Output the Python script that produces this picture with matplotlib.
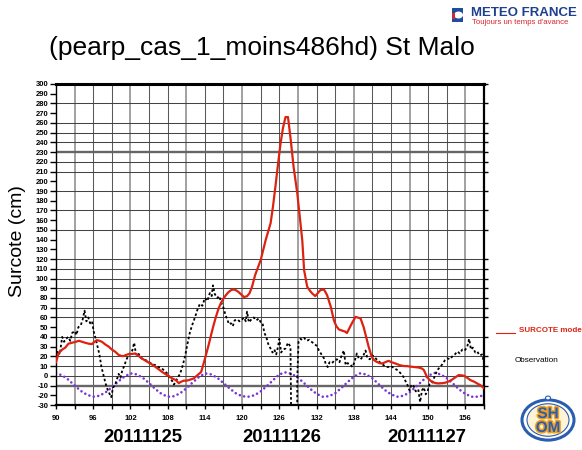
import matplotlib
matplotlib.use("Agg")
import matplotlib.pyplot as plt
import matplotlib.patheffects as pe
from matplotlib.lines import Line2D
from matplotlib.patches import Circle, Rectangle
from matplotlib.transforms import blended_transform_factory

plt.rcParams['font.family'] = ['Liberation Sans', 'DejaVu Sans']

# --- data -------------------------------------------------------------
# modelled surge (cm) against forecast hour
model_h = [90.0, 90.4, 91.0, 91.5, 92.0, 92.6, 93.2, 93.7, 94.2, 94.7, 95.3, 95.8,
           96.2, 96.6, 97.0, 97.4, 98.0, 98.5, 99.0, 99.5, 100.1, 100.5, 100.9,
           101.3, 101.7, 102.3, 102.8, 103.2, 103.6, 104.3, 105.0, 105.5, 106.0,
           106.6, 107.1, 107.6, 108.2, 108.7, 109.3, 109.8, 110.2, 110.6, 111.0,
           111.4, 111.8, 112.2, 112.6, 113.0, 113.4, 113.8, 114.2, 114.6, 115.0,
           115.4, 115.8, 116.2, 116.6, 117.0, 117.4, 117.8, 118.2, 118.6, 119.0,
           119.4, 119.8, 120.3, 120.8, 121.2, 121.6, 122.1, 122.4, 123.0, 123.8,
           124.6, 125.0, 125.4, 125.8, 126.2, 126.6, 127.0, 127.4, 127.8, 128.3,
           128.9, 129.3, 129.7, 130.0, 130.5, 131.0, 131.3, 131.8, 132.2, 132.6,
           133.2, 133.7, 134.0, 134.3, 134.8, 135.2, 135.6, 136.2, 136.6, 136.9,
           137.3, 137.7, 138.3, 139.1, 139.6, 140.0, 140.4, 140.9, 141.3, 141.7,
           142.2, 142.6, 143.1, 143.6, 144.1, 144.7, 145.4, 146.1, 146.6, 147.1,
           147.8, 148.5, 149.0, 149.3, 149.8, 150.2, 150.6, 151.2, 151.7, 152.3,
           152.8, 153.4, 153.9, 154.4, 154.9, 155.4, 155.8, 156.3, 156.8, 157.4,
           157.9, 158.5, 159.0]
model_v = [14, 23, 27, 29, 33, 34, 35, 36, 35, 34, 33, 32.6,
           35, 36.7, 36, 35, 32, 30, 27, 25, 21.5, 20.5, 20.3,
           21.5, 22.3, 22.5, 23, 21, 19, 16, 13.4, 11.5, 9.3,
           6.5, 4, 2, -0.3, -2.5, -4.4, -7.5, -6, -5, -5,
           -4.4, -3.5, -2.7, -0.5, 1.7, 4, 12.7, 22, 31.5, 42,
           52, 61, 69, 75, 79.5, 83, 86, 88, 88.8, 88,
           86.3, 84, 81, 81.8, 85, 91.5, 103.5, 108.6, 119, 139.5,
           157, 175, 196, 218, 239, 255, 266, 266, 245, 215,
           187.5, 163, 139.5, 108.6, 91.5, 87, 84.7, 82, 85, 88,
           88.8, 83, 77, 71, 57, 51, 47.7, 46.3, 45.5, 44,
           49, 54, 60.6, 59, 50, 40, 30, 19.5, 16, 14.4,
           13, 12.7, 14, 15.4, 14, 12.7, 11, 10, 10, 9.5,
           9, 8.5, 7.5, 5.9, -1, -4, -6.2, -7.5, -7.8, -7.5,
           -7, -5.5, -3.7, -1.5, 0.7, 0.5, 0, -2, -4.4, -6,
           -7.8, -10, -12.8]

# observed surge (cm); -99 marks the missing gauge record
obs_h = [90.0, 90.3, 90.6, 91.0, 91.3, 91.6, 92.0, 92.3, 92.6, 93.0, 93.3, 93.6,
         94.0, 94.3, 94.6, 94.9, 95.2, 95.5, 95.8, 96.1, 96.4, 96.7, 97.0, 97.3,
         97.6, 98.0, 98.3, 98.6, 98.9, 99.2, 99.5, 99.8, 100.1, 100.4, 100.7,
         101.0, 101.3, 101.6, 102.0, 102.3, 102.6, 102.9, 103.2, 103.6, 104.0,
         104.5, 105.0, 105.5, 106.0, 106.5, 107.0, 107.5, 108.0, 108.4, 108.7,
         109.0, 109.3, 109.6, 110.0, 110.4, 110.8, 111.2, 111.6, 112.0, 112.4,
         112.8, 113.2, 113.6, 114.0, 114.4, 114.8, 115.1, 115.3, 115.6, 116.0,
         116.3, 116.6, 117.0, 117.3, 117.6, 117.9, 118.2, 118.5, 118.8, 119.2,
         119.6, 120.0, 120.3, 120.6, 120.8, 121.1, 121.5, 121.9, 122.3, 122.7,
         123.0, 123.3, 123.6, 123.9, 124.2, 124.6, 124.9, 125.2, 125.5, 125.8,
         126.0, 126.3, 126.6, 127.0, 127.4, 127.8, 128.0, 128.85, 128.9, 129.1,
         129.4, 129.7, 130.0, 130.4, 130.8, 131.2, 131.6, 132.0, 132.4, 132.8,
         133.2, 133.5, 133.8, 134.1, 134.5, 134.9, 135.3, 135.7, 136.0, 136.4,
         136.7, 137.0, 137.4, 137.8, 138.1, 138.5, 138.8, 139.1, 139.5, 139.9,
         140.2, 140.6, 141.0, 141.4, 141.8, 142.2, 142.6, 143.0, 143.5, 144.0,
         144.5, 145.0, 145.5, 146.0, 146.4, 146.7, 147.0, 147.3, 147.7, 148.0,
         148.4, 148.7, 149.0, 149.3, 149.6, 149.9, 150.2, 150.6, 150.9, 151.2,
         151.5, 151.9, 152.3, 152.7, 153.1, 153.5, 153.9, 154.3, 154.7, 155.1,
         155.5, 155.9, 156.3, 156.6, 156.9, 157.2, 157.6, 157.9, 158.3, 158.7,
         159.0]
obs_v = [18, 26, 22, 40, 35, 38, 40, 36, 44, 46, 42, 50,
         52, 58, 67, 56, 60, 54, 56, 45, 38, 30, 22, 10,
         2, -8, -14, -18, -22, -12, -10, -4, 2, -2, 6,
         10, 16, 20, 24, 26, 34, 22, 24, 19, 17,
         16, 14, 12, 11, 9, 8, 5, 2, -3, -5,
         -9, -6, -2, 2, 10, 20, 33, 45, 53, 60,
         68, 74, 72, 80, 77, 85, 82, 93, 84, 80,
         82, 76, 70, 63, 58, 53, 54, 51, 57, 58,
         56, 58, 60, 56, 66, 55, 58, 60, 57, 59,
         55, 54, 44, 40, 33, 28, 24, 27, 22, 30,
         38, 24, 27, 28, 34, 30, -99, -99, -1, 35,
         38, 37, 39, 36, 37, 35, 33, 31, 26, 22,
         18, 12, 9, 14, 13, 16, 17, 14, 20, 26,
         11, 13, 12, 9, 14, 23, 18, 17, 20, 26,
         18, 17, 21, 19, 16, 14, 12, 10, 9, 10,
         8, 6, 3, -1, -6, -10, -15, -9, -11, -16,
         -14, -27, -15, -12, -19, -16, -9, -8, -3, 2,
         6, 9, 12, 16, 18, 17, 20, 22, 25, 23,
         27, 26, 30, 38, 27, 29, 24, 25, 21, 22,
         13]

# astronomical reference curve (cm), hourly
tide_h = list(range(90, 160))
tide_v = [2.5, 0.5, -4, -10, -15.5, -19.5, -21.5, -20.5, -17, -12, -6, -1,
          2.5, 1.5, -2, -7.5, -13.5, -18.5, -21.5, -21, -18, -13, -7, -1.5,
          2.5, 1.5, -2, -7.5, -13, -18, -21, -21.5, -20, -16, -10.5, -4.5,
          1.5, 3.5, 2, -2, -7.5, -13.5, -18.5, -21.5, -21, -18, -12.5, -6.5,
          -1, 2.5, 1.5, -2.5, -8.5, -14.5, -19, -21.5, -20.5, -17, -11.5, -5.5,
          0, 3, 1.5, -2.5, -8, -14, -18.5, -21.5, -21.5, -20]

grid_levels = [300, 280, 260, 250, 240, 230, 220, 210, 190, 170, 150, 120, 110,
               100, 90, 80, 70, 60, 40, 20, 10, 0, -10]
heavy_levels = [230, -10]
x_labels_h = list(range(90, 157, 6))
day_labels = ["20111125", "20111126", "20111127"]
day_centers = [104.0, 126.4, 149.8]

# --- figure -----------------------------------------------------------
W, H = 582, 450
fig = plt.figure(figsize=(W / 100, H / 100), dpi=100)
ax = fig.add_axes([56 / W, 1 - 405 / H, (484 - 56) / W, (405 - 84) / H])
ax.set_xlim(90, 159)
ax.set_ylim(-30, 300)

# grid
for i, h in enumerate(range(93, 159, 3)):
    ax.axvline(h, color="#5a5a5a" if i % 3 else "#9a9a9a",
               lw=0.75 if i % 3 else 1.3, zorder=1)
for lv in grid_levels:
    if lv in heavy_levels:
        ax.axhline(lv, color="#666666", lw=1.7, zorder=1)
    else:
        ax.axhline(lv, color="#444444", lw=0.75, zorder=1)

# series
ax.plot(tide_h, tide_v, color="#7a35d6", lw=1.9,
        linestyle=(0, (0.01, 1.7)), dash_capstyle="round", zorder=2)
ax.plot(obs_h, obs_v, color="black", lw=1.3,
        linestyle=(0, (1.4, 1.3)), zorder=3)
ax.plot(model_h, model_v, color="#dd2211", lw=1.6, zorder=4)

# axes styling
for side, lw in (("left", 1.0), ("bottom", 1.6), ("right", 1.6), ("top", 2.2)):
    ax.spines[side].set_linewidth(lw)
    ax.spines[side].set_color("black")

ax.set_yticks(range(-30, 301, 10))
ax.set_yticklabels([str(v) for v in range(-30, 301, 10)],
                   fontsize=5.5, fontweight="bold")
ax.set_xticks(x_labels_h)
ax.set_xticklabels([str(h) for h in x_labels_h], fontsize=5.5, fontweight="bold")
ax.set_xticks(range(90, 160, 3), minor=True)
ax.tick_params(axis="y", which="major", direction="out", length=4, width=1, pad=1.5)
ax.tick_params(axis="x", which="both", direction="out", length=3, width=1, pad=4)

# right-hand ticks at the grid levels
rax = ax.twinx()
rax.set_ylim(ax.get_ylim())
rax.set_yticks(grid_levels)
rax.set_yticklabels([])
rax.tick_params(axis="y", direction="out", length=3, width=1)
for s in rax.spines.values():
    s.set_visible(False)

# titles
fig.text(262 / W, 1 - 48 / H, "(pearp_cas_1_moins486hd) St Malo",
         ha="center", va="center", fontsize=19)
fig.text(18 / W, 1 - 241 / H, "Surcote (cm)", rotation=90,
         ha="center", va="center", fontsize=14)

trans = blended_transform_factory(ax.transData, fig.transFigure)
for lab, c in zip(day_labels, day_centers):
    fig.text(c, 1 - 437 / H, lab, transform=trans, ha="center", va="center",
             fontsize=13.3, fontweight="bold")

# legend at the right
fig.add_artist(Line2D([496 / W, 515 / W], [1 - 333 / H, 1 - 333 / H],
                      color="#dd2211", lw=0.8))
fig.text(519 / W, 1 - 331 / H, "SURCOTE modele", color="#dd2211",
         fontsize=5.8, fontweight="bold", va="center", ha="left")
fig.text(515 / W, 1 - 360 / H, "Observation", color="black",
         fontsize=5.9, va="center", ha="left")

# Meteo-France banner
fig.add_artist(Rectangle((452 / W, 1 - 22 / H), 11 / W, 14 / H,
                         transform=fig.transFigure, facecolor="#1d4e9e",
                         edgecolor="none"))
fig.add_artist(Circle((458.5 / W, 1 - 15 / H), 4.5 / W,
                      transform=fig.transFigure, facecolor="white",
                      edgecolor="none"))
fig.add_artist(Rectangle((452 / W, 1 - 19 / H), 3 / W, 6 / H,
                         transform=fig.transFigure, facecolor="#d8262e",
                         edgecolor="none"))
fig.text(471 / W, 1 - 13 / H, "METEO FRANCE", color="#1f3f8f",
         fontsize=9.5, fontweight="bold", va="center", ha="left")
fig.text(472 / W, 1 - 22.5 / H, "Toujours un temps d'avance", color="#d8262e",
         fontsize=5.6, va="center", ha="left")

# SHOM emblem
cx, cy, r = 548, 420, 26
fig.add_artist(Circle((cx / W, 1 - cy / H), r / W, transform=fig.transFigure,
                      facecolor="white", edgecolor="#2a5db0", lw=2.2))
fig.add_artist(Circle((cx / W, 1 - cy / H), (r - 5) / W, transform=fig.transFigure,
                      facecolor="#fff4d8", edgecolor="#2a5db0", lw=0.8))
fig.add_artist(Circle((cx / W, 1 - (cy - 22) / H), 2.5 / W, transform=fig.transFigure,
                      facecolor="white", edgecolor="#2a5db0", lw=0.8))
stroke = [pe.withStroke(linewidth=2.2, foreground="#f0a020")]
fig.text(cx / W, 1 - (cy - 6) / H, "SH", color="#2a5db0", fontsize=11,
         fontweight="bold", ha="center", va="center", path_effects=stroke)
fig.text(cx / W, 1 - (cy + 8) / H, "OM", color="#2a5db0", fontsize=11,
         fontweight="bold", ha="center", va="center", path_effects=stroke)

fig.savefig("out.png", dpi=100, facecolor="white")
